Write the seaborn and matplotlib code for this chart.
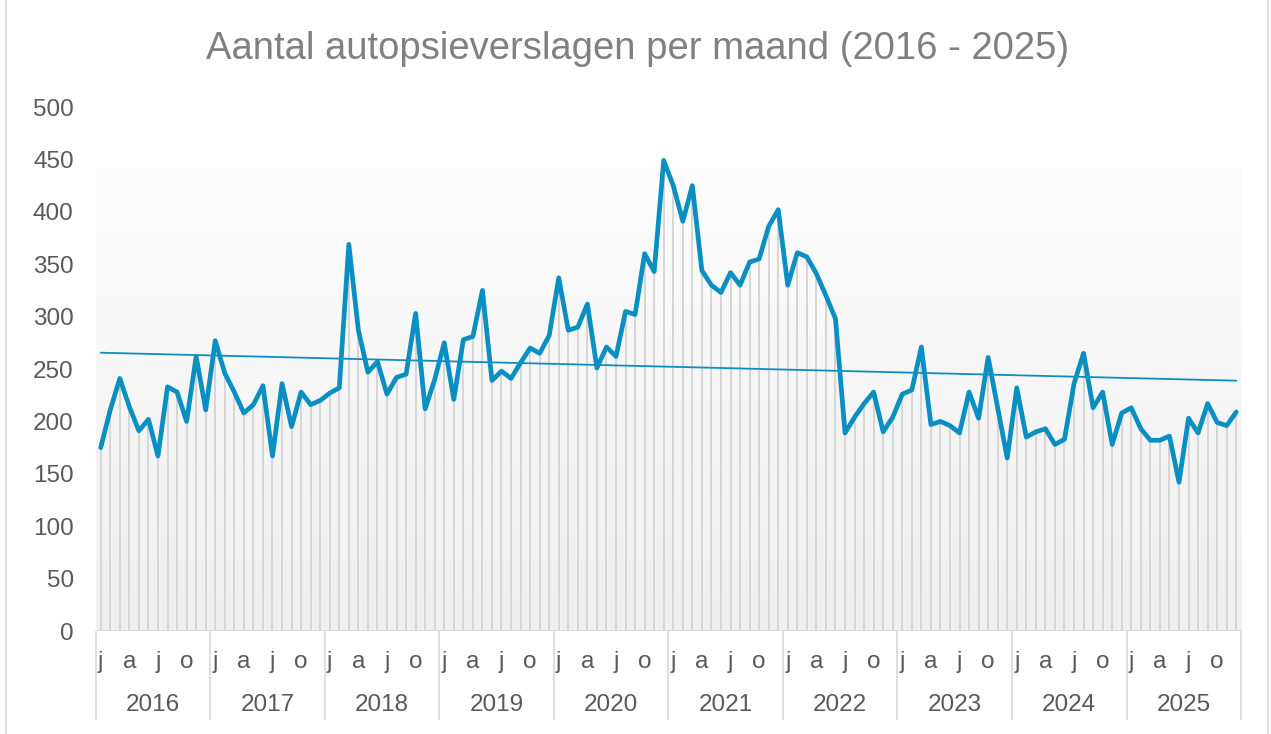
import numpy as np
import pandas as pd
import matplotlib.pyplot as plt
import matplotlib.lines as mlines
from matplotlib.colors import LinearSegmentedColormap
import seaborn as sns

years = list(range(2016, 2026))
month_letters = ["j", "a", "j", "o"]
month_letter_pos = [0, 3, 6, 9]

verslagen = [
    175, 211, 241, 214, 191, 202, 167, 233, 228, 200, 262, 211,   # 2016
    277, 246, 228, 208, 216, 234, 167, 236, 195, 228, 216, 220,   # 2017
    227, 232, 369, 287, 247, 257, 226, 242, 245, 303, 212, 240,   # 2018
    275, 221, 278, 281, 325, 239, 248, 241, 256, 270, 265, 282,   # 2019
    337, 287, 290, 312, 251, 271, 262, 305, 302, 360, 343, 449,   # 2020
    425, 391, 425, 344, 330, 323, 342, 330, 352, 355, 386, 402,   # 2021
    330, 361, 357, 341, 320, 298, 189, 204, 217, 228, 190, 204,   # 2022
    226, 230, 271, 197, 200, 196, 189, 228, 203, 261, 213, 165,   # 2023
    232, 185, 190, 193, 178, 183, 236, 265, 213, 228, 178, 208,   # 2024
    213, 193, 182, 182, 186, 142, 203, 189, 217, 199, 196, 209,   # 2025
]

df = pd.DataFrame({"maand": np.arange(len(verslagen)), "aantal": verslagen})

blauw = "#0a8fc3"
grijs = "#595959"

sns.set_style("white")
plt.rcParams["font.family"] = ["Liberation Sans", "DejaVu Sans"]

fig = plt.figure(figsize=(12.71, 7.34), dpi=100)
ax = fig.add_axes([0.0755, 0.1403, 0.9009, 0.7139])

n = len(verslagen)
ax.set_xlim(-0.5, n - 0.5)
ax.set_ylim(0, 500)

# faint gradient in plot area
grad = np.linspace(0, 1, 256).reshape(-1, 1)
cmap = LinearSegmentedColormap.from_list("g", ["#fdfdfd", "#efefef"])
ax.imshow(grad, cmap=cmap, aspect="auto", extent=(-0.5, n - 0.5, 0, 442),
          origin="upper", zorder=0)

# drop lines
ax.vlines(df["maand"], 0, df["aantal"], color="#d6d6d6", lw=1.4, zorder=1)

sns.regplot(data=df, x="maand", y="aantal", scatter=False, ci=None, ax=ax,
            line_kws={"color": blauw, "lw": 1.3, "zorder": 2}, truncate=True)
sns.lineplot(data=df, x="maand", y="aantal", color=blauw, lw=3.4, ax=ax, zorder=3)

for s in ax.spines.values():
    s.set_visible(False)
ax.axhline(0, color="#d9d9d9", lw=1.2, zorder=4)

ax.set_yticks(range(0, 501, 50))
ax.tick_params(axis="y", length=0, labelsize=17.5, labelcolor=grijs, pad=16)
ax.set_xticks([])
ax.set_xlabel("")
ax.set_ylabel("")
ax.grid(False)

# month letters and year labels
xt = ax.get_xaxis_transform()
for i, jaar in enumerate(years):
    for p, letter in zip(month_letter_pos, month_letters):
        ax.text(i * 12 + p, -0.06, letter, transform=xt, ha="center", va="center",
                fontsize=17.5, color=grijs)
    ax.text(i * 12 + 5.5, -0.141, str(jaar), transform=xt, ha="center", va="center",
            fontsize=17.5, color=grijs)
grenzen = [i * 12 - 0.5 for i in range(len(years) + 1)]
ax.vlines(grenzen, -0.17, 0, transform=xt, color="#d9d9d9", lw=1.2, clip_on=False)

fig.suptitle("Aantal autopsieverslagen per maand (2016 - 2025)", x=0.502, y=0.958,
             fontsize=27.5, color="#808080")

# outer chart border
fig.add_artist(mlines.Line2D([6 / 1271, 6 / 1271], [0, 1], color="#d9d9d9", lw=1.2,
                             transform=fig.transFigure))
fig.add_artist(mlines.Line2D([1268 / 1271, 1268 / 1271], [0, 1], color="#d9d9d9", lw=1.2,
                             transform=fig.transFigure))

fig.savefig("out.png", dpi=100)
